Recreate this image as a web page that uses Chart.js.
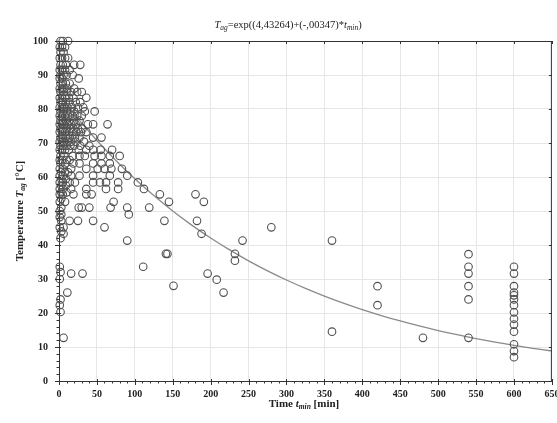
<!DOCTYPE html>
<html><head><meta charset="utf-8">
<script src="https://cdn.jsdelivr.net/npm/chart.js@4.4.0/dist/chart.umd.min.js"></script>
<style>
html,body{margin:0;padding:0;background:#fff;}
#wrap{position:relative;width:557px;height:423px;overflow:hidden;}
canvas{position:absolute;left:0;top:0;}
.lbl{position:absolute;font-family:"Liberation Serif","Times New Roman",serif;color:#222;white-space:nowrap;text-align:center;}
.lbl sub{font-size:7.5px;vertical-align:-2px;}
#title{left:138px;width:300px;top:19px;font-size:10.5px;}
#xtitle{left:154px;width:300px;top:397px;font-size:11px;font-weight:bold;}
#ytitle{left:-130px;width:300px;top:204px;font-size:11px;font-weight:bold;transform:rotate(-90deg);transform-origin:150px 7px;}
</style></head>
<body>
<div id="wrap">
<canvas id="c" width="557" height="423"></canvas>
<div class="lbl" id="title"><i>T</i><sub><i>ag</i></sub>=exp((4,43264)+(-,00347)*<i>t</i><sub><i>min</i></sub>)</div>
<div class="lbl" id="xtitle">Time <i>t</i><sub><i>min</i></sub> [min]</div>
<div class="lbl" id="ytitle">Temperature <i>T</i><sub><i>ag</i></sub> [°C]</div>
</div>
<script>
// Observed points grouped by temperature row: [temperature, [times...]]
const clusterRows = [
 [100,[2,5,12]],
 [98.2,[1,4,8]],
 [96.7,[2,6]],
 [95,[1,4,8,12]],
 [93,[2,5,9,20,28]],
 [91.5,[1,4,8,14]],
 [90,[2,6,10,18]],
 [89,[1,4,26]],
 [87.5,[2,5,9,14]],
 [86,[1,4,7,11,20]],
 [85,[2,6,10,16,24,30]],
 [83.3,[1,4,8,13,19,36]],
 [82,[2,5,9,14,22,28]],
 [80.5,[1,4,7,11,17,25,32]],
 [79.3,[2,6,10,15,20,34,47]],
 [78,[1,4,8,12,18,24,30]],
 [76.6,[2,5,9,14,20,27]],
 [75.5,[1,4,7,11,16,22,38,45,64]],
 [74.2,[2,6,10,15,19,25,31]],
 [73.2,[1,4,8,13,18,23,29,36]],
 [71.6,[2,5,9,14,21,27,45,56]],
 [70.4,[1,4,7,11,16,22,33]],
 [69.2,[2,6,10,15,20,28,40]],
 [68,[1,4,8,13,26,36,45,55,70]],
 [66.2,[2,7,18,27,34,47,56,67,80]],
 [65,[1,4,10,14]],
 [64,[2,8,19,27,45,56,67]],
 [62.4,[1,5,16,36,51,60,69,83]],
 [61.4,[3,8,12]],
 [60.4,[1,5,16,27,45,67,90]],
 [59.4,[3,9]],
 [58.4,[1,5,14,21,45,54,62,78,104]],
 [57.5,[3,9]],
 [56.5,[1,5,16,36,62,78,112]],
 [55.5,[3,10]],
 [54.9,[1,5,19,36,43,133,180]],
 [53.6,[3]],
 [52.7,[1,8,72,145,191]],
 [51,[3,26,30,40,68,90,119]],
 [50,[1]],
 [49,[3,92]],
 [48.2,[1]],
 [47.1,[3,14,25,45,139,182]],
 [45.2,[1,6,60,280]],
 [44,[3]],
 [43.3,[6,188]],
 [42,[2]]
];
const lowerRows = [
 [41.3,[90,242,360]],
 [37.4,[141,143,232]],
 [35.4,[232]],
 [33.6,[1,111]],
 [32,[2]],
 [31.6,[16,31,196]],
 [30,[1]],
 [29.8,[208]],
 [28,[151]],
 [27.9,[420]],
 [26,[11,217]],
 [24,[2]],
 [22.3,[1,420]],
 [20.3,[2]],
 [14.5,[360]],
 [12.7,[6,480]]
];
const temps540 = [37.3,33.6,31.6,27.9,24,12.7];
const temps600 = [33.6,31.6,27.9,26,25.2,24,22.3,20.2,18.3,16.6,14.5,10.8,8.8,7.0];

// Fitted curve read along its course
const fitTimes = [0,25,50,75,100,125,150,175,200,225,250,275,300,325,350,375,400,425,450,475,500,525,550,575,600,625,650];
const fitTemps = [84.15,77.16,70.75,64.87,59.48,54.54,50.00,45.85,42.04,38.55,35.34,32.41,29.71,27.24,24.98,22.90,21.00,19.26,17.66,16.19,14.84,13.61,12.48,11.44,10.49,9.62,8.82];

const xRange = [0,650], yRange = [0,100];

const points = [];
[...clusterRows, ...lowerRows].forEach(([T, ts]) => ts.forEach(t => points.push({x:t, y:T})));
temps540.forEach(T => points.push({x:540, y:T}));
temps600.forEach(T => points.push({x:600, y:T}));
const fit = fitTimes.map((t,i) => ({x:t, y:fitTemps[i]}));

const frameTicks = {
  id:'frameTicks',
  afterDraw(chart){
    const {ctx, chartArea:a, scales:{x,y}} = chart;
    ctx.save();
    ctx.strokeStyle='#333'; ctx.lineWidth=1;
    ctx.beginPath();
    ctx.moveTo(a.left, a.top+0.5); ctx.lineTo(a.right, a.top+0.5);
    ctx.moveTo(a.right-0.5, a.top); ctx.lineTo(a.right-0.5, a.bottom);
    for (let v=x.min; v<=x.max; v+=10){
      const px = Math.round(x.getPixelForValue(v))+0.5;
      const major = v%50===0;
      ctx.moveTo(px, a.bottom+(major?4:2.5)); ctx.lineTo(px, a.bottom-(major?2:0));
      if (major){ ctx.moveTo(px, a.top); ctx.lineTo(px, a.top+3); }
    }
    for (let v=y.min; v<=y.max; v+=2){
      const py = Math.round(y.getPixelForValue(v))+0.5;
      const major = v%10===0;
      ctx.moveTo(a.left-(major?4:2.5), py); ctx.lineTo(a.left+(major?2:0), py);
      if (major){ ctx.moveTo(a.right, py); ctx.lineTo(a.right-3, py); }
    }
    ctx.stroke();
    ctx.restore();
  }
};

const tickFont = {family:'"Liberation Serif","Times New Roman",serif', size:10, weight:'bold'};

new Chart(document.getElementById('c'), {
  type:'scatter',
  data:{datasets:[
    {type:'line', data:fit, borderColor:'#8a8a8a', borderWidth:1.3, pointRadius:0, tension:0.4, fill:false, order:1},
    {data:points, showLine:false, clip:false, pointRadius:3.8, pointBorderWidth:1.1, borderColor:'#505050', backgroundColor:'rgba(0,0,0,0)', pointBackgroundColor:'rgba(0,0,0,0)', order:0}
  ]},
  options:{
    responsive:false, animation:false,
    layout:{padding:{top:41,right:2,left:0,bottom:0}},
    plugins:{legend:{display:false}, tooltip:{enabled:false}, title:{display:false}},
    scales:{
      x:{type:'linear', min:xRange[0], max:xRange[1],
         ticks:{stepSize:50, font:tickFont, color:'#222', padding:7, maxRotation:0},
         grid:{color:'#e6e6e6', drawTicks:false},
         border:{color:'#333', width:1},
         afterFit(s){ s.height=42; s.paddingLeft=0; s.paddingRight=0; }},
      y:{min:yRange[0], max:yRange[1],
         ticks:{stepSize:10, font:tickFont, color:'#222', padding:11},
         grid:{color:'#e6e6e6', drawTicks:false},
         border:{color:'#333', width:1},
         afterFit(s){ s.width=59; s.paddingTop=0; s.paddingBottom=0; }}
    }
  },
  plugins:[frameTicks]
});
</script>
</body></html>
